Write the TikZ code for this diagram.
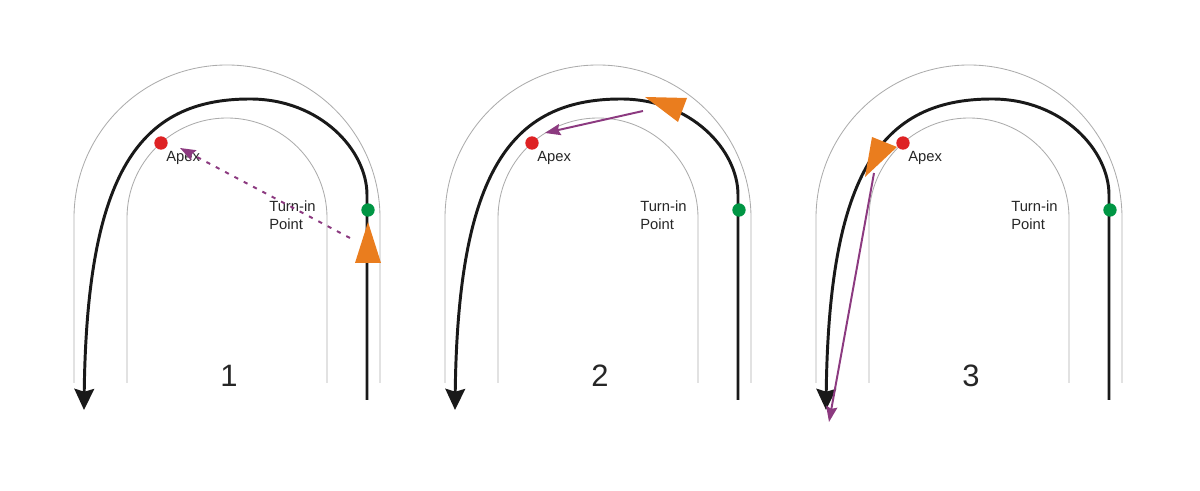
\documentclass[tikz,border=0pt]{standalone}
\usepackage{fontspec}
\setmainfont{Liberation Sans}
\usepackage{xcolor}
\usetikzlibrary{arrows.meta}

\definecolor{apexred}{RGB}{222,34,36}
\definecolor{turngreen}{RGB}{0,150,68}
\definecolor{carorange}{RGB}{234,125,30}
\definecolor{aimpurple}{RGB}{140,58,128}

\tikzset{
  track/.style={gray!65,line width=0.6pt},
  raceline/.style={black!90,line width=2.1pt,-{Stealth[length=15pt,width=14pt,inset=2pt]}},
  dot/.style={circle,inner sep=0pt,minimum size=9.5pt},
  car/.style={fill=carorange},
  aim/.style={aimpurple,line width=1.4pt,-{Stealth[length=11pt,width=8pt,inset=1.5pt]}},
  small label/.style={font=\fontsize{10.5}{12.5}\selectfont,align=left,text=black!85},
}

\begin{document}
\begin{tikzpicture}[x=0.025cm,y=0.025cm,line join=round]
  \useasboundingbox (0,0) rectangle (1200,491);
  \foreach \n/\o in {1/0,2/371,3/742}{
    \begin{scope}[shift={(\o,0)}]
      \draw[track] (74,108) -- (74,273) arc[start angle=180,end angle=0,radius=153] -- (380,108);
      \draw[track] (127,108) -- (127,273) arc[start angle=180,end angle=0,radius=100] -- (327,108);
      \draw[raceline] (367,91) -- (367,296) .. controls (367,341) and (320,392) .. (250,392)
        .. controls (140,392) and (87,320) .. (84,81);
      \node[dot,fill=apexred] (apex\n) at (161,348) {};
      \node[dot,fill=turngreen] (turn\n) at (368,281) {};
      \node[small label,anchor=west,inner sep=0pt] (apextext\n) at (166,333) {Apex};
      \node[small label,anchor=north west,inner sep=0pt] (turntext\n) at (269,290) {Turn-in\\Point};
      \node[font=\fontsize{22}{26}\selectfont,text=black!85] (num\n) at (229,115) {\n};
    \end{scope}
  }
  % panel 1: car at the turn-in point
  \coordinate (C1a) at (368,269);
  \coordinate (C1b) at (355,228);
  \coordinate (C1c) at (381,228);
  \fill[car] (C1a) -- (C1b) -- (C1c) -- cycle;
  \coordinate (A1s) at (350,253);
  \coordinate (A1e) at (180,343);
  \draw[aim,dashed,dash pattern=on 3pt off 4.5pt] (A1s) -- (A1e);
  % panel 2: car on the arc
  \coordinate (C2a) at (645,394);
  \coordinate (C2b) at (687,393);
  \coordinate (C2c) at (678,369);
  \fill[car] (C2a) -- (C2b) -- (C2c) -- cycle;
  \coordinate (A2s) at (643,380);
  \coordinate (A2e) at (545,358);
  \draw[aim] (A2s) -- (A2e);
  % panel 3: car past the apex
  \coordinate (C3a) at (865,314);
  \coordinate (C3b) at (872,354);
  \coordinate (C3c) at (897,344);
  \fill[car] (C3a) -- (C3b) -- (C3c) -- cycle;
  \coordinate (A3s) at (874,318);
  \coordinate (A3e) at (829,69);
  \draw[aim] (A3s) -- (A3e);
\end{tikzpicture}
\end{document}
